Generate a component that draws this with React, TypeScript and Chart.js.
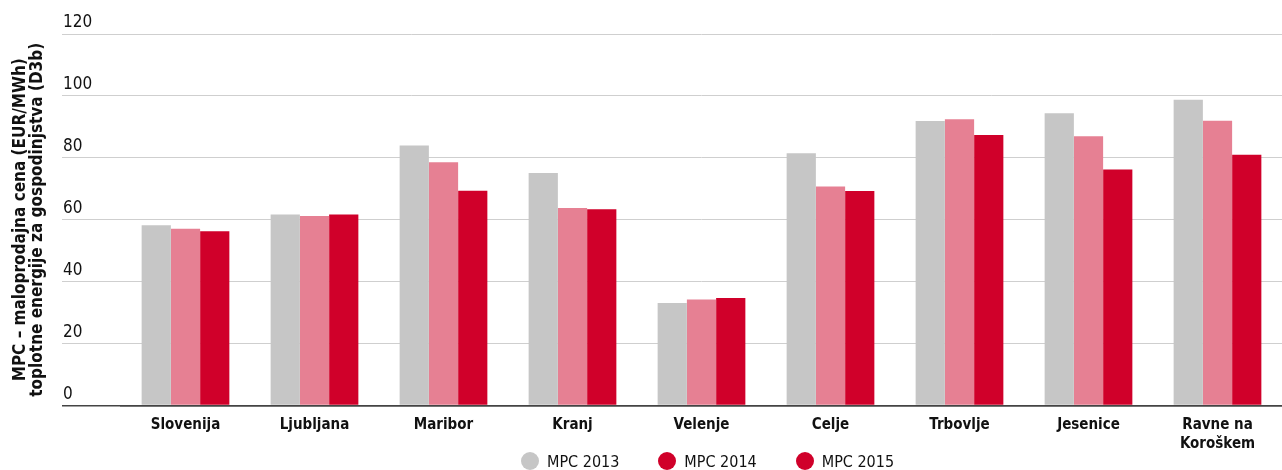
import React, { useEffect, useRef } from "react";
import { Chart, registerables } from "chart.js";

Chart.register(...registerables);

const categories: (string | string[])[] = [
  "Slovenija",
  "Ljubljana",
  "Maribor",
  "Kranj",
  "Velenje",
  "Celje",
  "Trbovlje",
  "Jesenice",
  ["Ravne na", "Koroškem"],
];
const mpc2013 = [58.2, 61.7, 84.0, 75.1, 33.1, 81.5, 91.9, 94.4, 98.8];
const mpc2014 = [57.1, 61.2, 78.6, 63.8, 34.2, 70.7, 92.5, 87.0, 92.0];
const mpc2015 = [56.3, 61.7, 69.4, 63.4, 34.7, 69.3, 87.4, 76.2, 81.0];
const seriesLabels = ["MPC 2013", "MPC 2014", "MPC 2015"];
const barColors = ["#c6c6c6", "#e68093", "#d0002a"];
const legendColors = ["#c6c6c6", "#d0002a", "#d0002a"];
const yTitle = [
  "MPC – maloprodajna cena (EUR/MWh)",
  "toplotne energije za gospodinjstva (D3b)",
];

const FONT = "'Liberation Sans Narrow', 'DejaVu Sans Condensed', 'Roboto', sans-serif";

export default function App() {
  const ref = useRef<HTMLCanvasElement | null>(null);

  useEffect(() => {
    if (!ref.current) return;
    const chart = new Chart(ref.current, {
      type: "bar",
      data: {
        labels: categories,
        datasets: [mpc2013, mpc2014, mpc2015].map((d, i) => ({
          label: seriesLabels[i],
          data: d,
          backgroundColor: barColors[i],
          borderWidth: 0,
          categoryPercentage: 0.68,
          barPercentage: 1.0,
        })),
      },
      options: {
        animation: false,
        responsive: true,
        maintainAspectRatio: false,
        layout: { padding: { top: 34, right: 0, left: 12, bottom: 0 } },
        plugins: {
          tooltip: { enabled: false },
          legend: { display: false },
        },
        scales: {
          x: {
            grid: { display: false, drawTicks: false },
            border: { display: true, color: "#444", width: 1.5 },
            ticks: {
              color: "#111",
              font: { family: FONT, size: 15, weight: "bold", lineHeight: 1.25 },
              maxRotation: 0,
              autoSkip: false,
              padding: 10,
            },
          },
          y: {
            min: 0,
            max: 120,
            afterFit: (scale: any) => {
              scale.width = 109;
            },
            border: { display: false },
            grid: {
              color: (ctx: any) => (ctx.tick && ctx.tick.value === 0 ? "#444" : "#cfcfcf"),
              tickColor: (ctx: any) => (ctx.tick && ctx.tick.value === 0 ? "#444" : "#cfcfcf"),
              lineWidth: (ctx: any) => (ctx.tick && ctx.tick.value === 0 ? 1.5 : 1),
              tickLength: 59,
              drawTicks: true,
            },
            ticks: {
              stepSize: 20,
              mirror: true,
              padding: -58,
              labelOffset: -11,
              color: "#111",
              font: { family: FONT, size: 17 },
            },
            title: {
              display: true,
              text: yTitle,
              color: "#111",
              font: { family: FONT, size: 17, weight: "bold", lineHeight: 1.0 },
              padding: { top: 0, bottom: 0 },
            },
          },
        },
      },
    });
    return () => chart.destroy();
  }, []);

  return (
    <div style={{ position: "absolute", left: 0, top: 0, width: 1282, height: 470, overflow: "hidden" }}>
      <div style={{ position: "absolute", left: 0, top: 0, width: 1282, height: 463 }}>
        <canvas ref={ref} />
      </div>
      <div
        style={{
          position: "absolute",
          left: 521,
          top: 452,
          height: 18,
          display: "flex",
          alignItems: "center",
          fontFamily: FONT,
          fontSize: 16,
          color: "#111",
          whiteSpace: "nowrap",
        }}
      >
        {seriesLabels.map((t, i) => (
          <div key={t} style={{ display: "flex", alignItems: "center", marginRight: 39 }}>
            <span
              style={{
                display: "inline-block",
                width: 18,
                height: 18,
                borderRadius: "50%",
                background: legendColors[i],
                marginRight: 8,
              }}
            />
            <span>{t}</span>
          </div>
        ))}
      </div>
    </div>
  );
}
